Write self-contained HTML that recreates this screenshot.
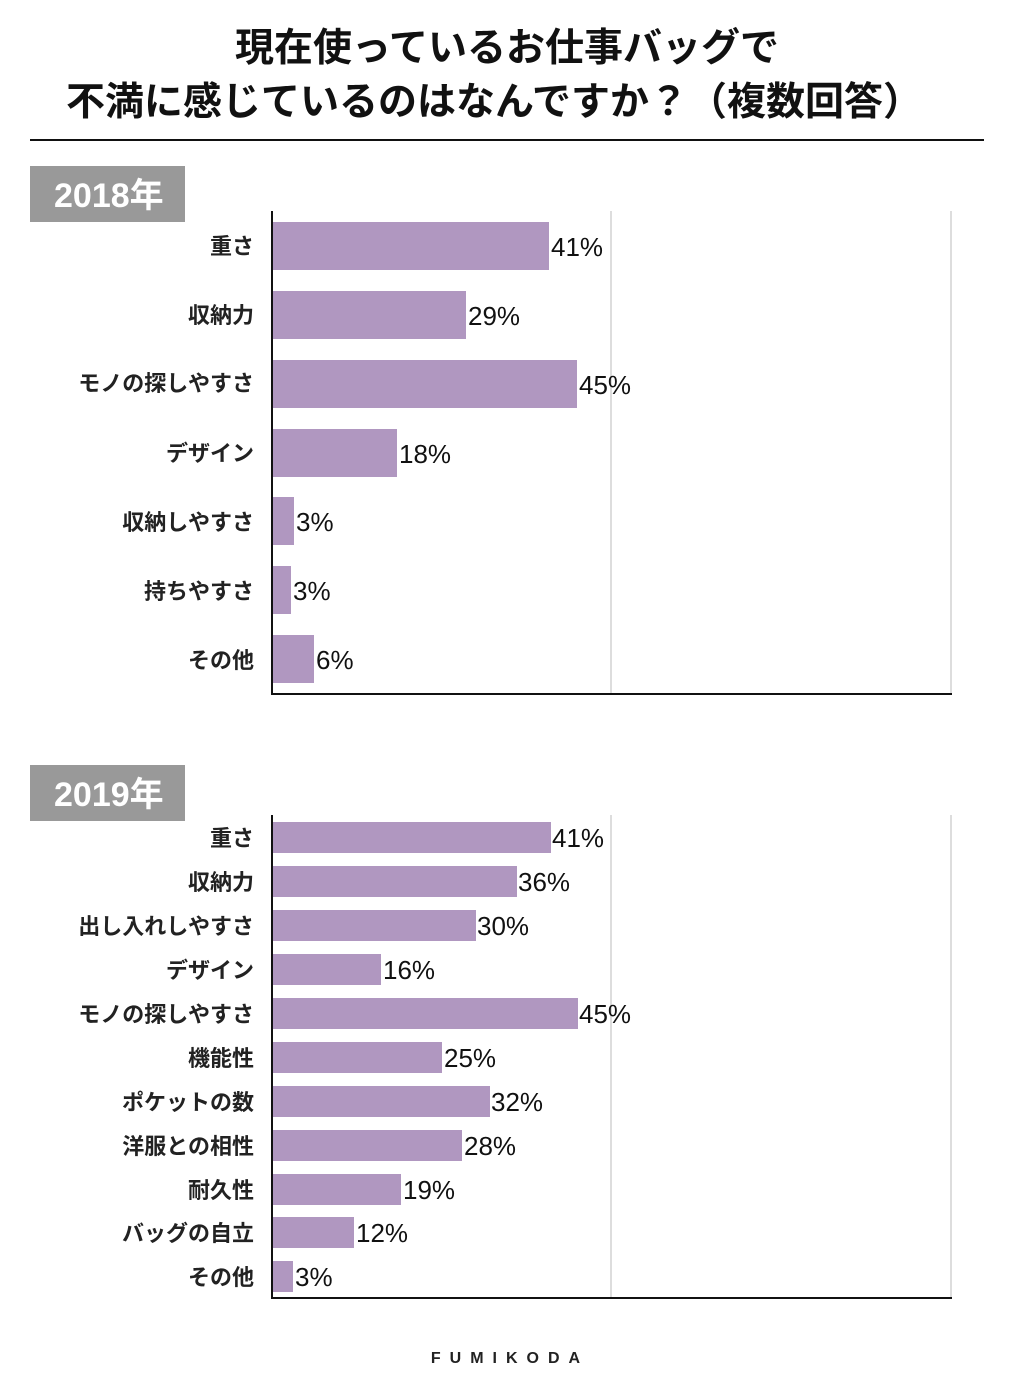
<!DOCTYPE html>
<html><head><meta charset="utf-8"><style>
body{margin:0;background:#fff}
svg{display:block}
text{font-family:"Liberation Sans","Noto Sans CJK JP",sans-serif}
.t{font-size:39px;font-weight:bold;fill:#111}
.l{font-size:22px;font-weight:bold;fill:#222;text-anchor:end}
.v{font-size:26px;fill:#111}
.y{font-size:34px;font-weight:bold;fill:#fff}
</style></head><body>
<svg width="1024" height="1400" xmlns="http://www.w3.org/2000/svg">
<text class="t" x="507" y="61" text-anchor="middle">現在使っているお仕事バッグで</text>
<text class="t" x="494" y="115" text-anchor="middle">不満に感じているのはなんですか？（複数回答）</text>
<rect x="30" y="139" width="954" height="2" fill="#111"/>

<rect x="30" y="166" width="155" height="56" fill="#999"/>
<text class="y" x="54" y="207">2018年</text>
<line x1="611" y1="211" x2="611" y2="694" stroke="#bbb" stroke-width="1"/>
<line x1="951" y1="211" x2="951" y2="694" stroke="#bbb" stroke-width="1"/>
<g fill="#b097c0">
<rect x="273" y="222" width="276" height="48"/>
<rect x="273" y="291" width="193" height="48"/>
<rect x="273" y="360" width="304" height="48"/>
<rect x="273" y="429" width="124" height="48"/>
<rect x="273" y="497" width="21" height="48"/>
<rect x="273" y="566" width="18" height="48"/>
<rect x="273" y="635" width="41" height="48"/>
</g>
<line x1="272" y1="211" x2="272" y2="694" stroke="#111" stroke-width="2"/>
<line x1="271" y1="694" x2="952" y2="694" stroke="#111" stroke-width="2"/>
<g class="l">
<text x="254" y="254">重さ</text>
<text x="254" y="323">収納力</text>
<text x="254" y="391">モノの探しやすさ</text>
<text x="254" y="461">デザイン</text>
<text x="254" y="530">収納しやすさ</text>
<text x="254" y="599">持ちやすさ</text>
<text x="254" y="668">その他</text>
</g>
<g class="v">
<text x="551" y="256">41%</text>
<text x="468" y="325">29%</text>
<text x="579" y="394">45%</text>
<text x="399" y="463">18%</text>
<text x="296" y="531">3%</text>
<text x="293" y="600">3%</text>
<text x="316" y="669">6%</text>
</g>

<rect x="30" y="765" width="155" height="56" fill="#999"/>
<text class="y" x="54" y="806">2019年</text>
<line x1="611" y1="815" x2="611" y2="1298" stroke="#bbb" stroke-width="1"/>
<line x1="951" y1="815" x2="951" y2="1298" stroke="#bbb" stroke-width="1"/>
<g fill="#b097c0">
<rect x="273" y="822" width="278" height="31"/>
<rect x="273" y="866" width="244" height="31"/>
<rect x="273" y="910" width="203" height="31"/>
<rect x="273" y="954" width="108" height="31"/>
<rect x="273" y="998" width="305" height="31"/>
<rect x="273" y="1042" width="169" height="31"/>
<rect x="273" y="1086" width="217" height="31"/>
<rect x="273" y="1130" width="189" height="31"/>
<rect x="273" y="1174" width="128" height="31"/>
<rect x="273" y="1217" width="81" height="31"/>
<rect x="273" y="1261" width="20" height="31"/>
</g>
<line x1="272" y1="815" x2="272" y2="1298" stroke="#111" stroke-width="2"/>
<line x1="271" y1="1298" x2="952" y2="1298" stroke="#111" stroke-width="2"/>
<g class="l">
<text x="254" y="846">重さ</text>
<text x="254" y="890">収納力</text>
<text x="254" y="934">出し入れしやすさ</text>
<text x="254" y="978">デザイン</text>
<text x="254" y="1022">モノの探しやすさ</text>
<text x="254" y="1066">機能性</text>
<text x="254" y="1110">ポケットの数</text>
<text x="254" y="1154">洋服との相性</text>
<text x="254" y="1198">耐久性</text>
<text x="254" y="1241">バッグの自立</text>
<text x="254" y="1285">その他</text>
</g>
<g class="v">
<text x="552" y="847">41%</text>
<text x="518" y="891">36%</text>
<text x="477" y="935">30%</text>
<text x="383" y="979">16%</text>
<text x="579" y="1023">45%</text>
<text x="444" y="1067">25%</text>
<text x="491" y="1111">32%</text>
<text x="464" y="1155">28%</text>
<text x="403" y="1199">19%</text>
<text x="356" y="1242">12%</text>
<text x="295" y="1286">3%</text>
</g>
<text x="510" y="1363" text-anchor="middle" style="font-size:16px;font-weight:bold;letter-spacing:9px;fill:#222">FUMIKODA</text>
</svg>
</body></html>
